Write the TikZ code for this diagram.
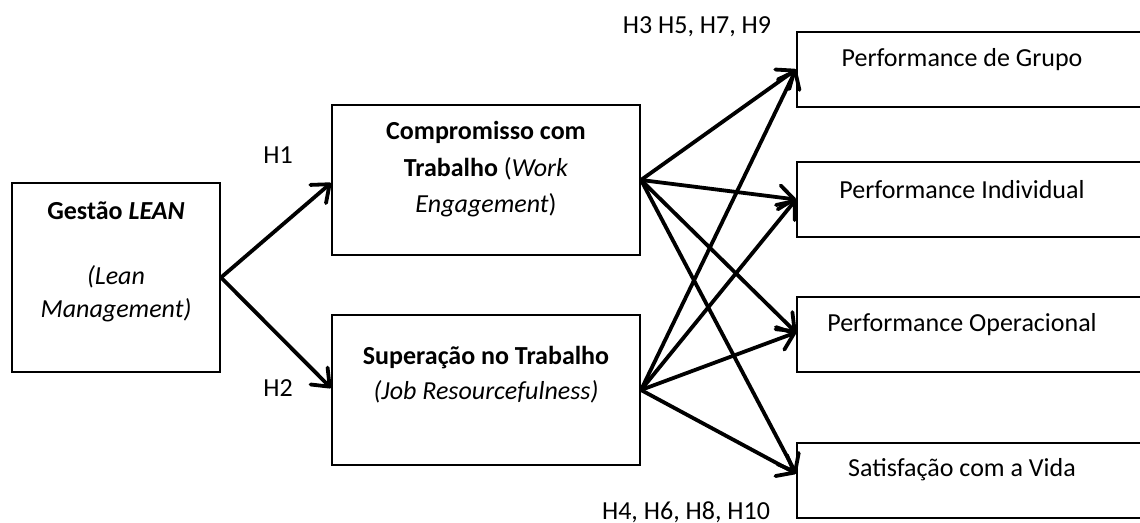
\documentclass[tikz,border=0pt]{standalone}
\usepackage{fontspec}
\setmainfont{Carlito}
\usetikzlibrary{arrows.meta}
\begin{document}
\begin{tikzpicture}[x=0.5pt,y=-0.5pt,
  frame/.style={draw, line width=1pt, inner sep=0pt},
  txt/.style={font=\fontsize{13}{18.25}\selectfont, align=center, inner sep=0pt},
  link/.style={line width=1.9pt, line cap=round,
    -{Straight Barb[length=7.5pt,width=12pt,line width=1.9pt,round]}}
]
\clip (0,0) rectangle (1140,523);

% boxes
\node[frame, minimum width=104pt, minimum height=94.5pt] (lean) at (116,277.5) {};
\node[frame, minimum width=154pt, minimum height=75pt] (comp) at (486,180) {};
\node[frame, minimum width=154pt, minimum height=75pt] (sup) at (486,390) {};
\node[frame, minimum width=181.5pt, minimum height=37.5pt] (grp) at (978.5,69.5) {};
\node[frame, minimum width=181.5pt, minimum height=37.5pt] (ind) at (978.5,199.5) {};
\node[frame, minimum width=181.5pt, minimum height=37.5pt] (ops) at (978.5,334.5) {};
\node[frame, minimum width=181.5pt, minimum height=37.5pt] (sat) at (978.5,480.5) {};

% box texts
\node[txt, font=\fontsize{13}{16.5}\selectfont] (leanT) at (116,262)
  {\textbf{Gestão \textit{LEAN}}\\[16pt]\textit{(Lean}\\\textit{Management)}};
\node[txt] (compT) at (486,169.5)
  {\textbf{Compromisso com}\\\textbf{Trabalho} (\textit{Work}\\\textit{Engagement})};
\node[txt, font=\fontsize{13}{17.5}\selectfont] (supT) at (486,375)
  {\textbf{Superação no Trabalho}\\\textit{(Job Resourcefulness)}};
\node[txt] (grpT) at (962,60) {Performance de Grupo};
\node[txt] (indT) at (962,190) {Performance Individual};
\node[txt] (opsT) at (962,325) {Performance Operacional};
\node[txt] (satT) at (962,470) {Satisfação com a Vida};

% hypothesis labels
\node[txt] (h1) at (278,155) {H1};
\node[txt] (h2) at (278,388) {H2};
\node[txt] (hodd) at (697,27) {H3 H5, H7, H9};
\node[txt] (heven) at (686,512) {H4, H6, H8, H10};

% paths
\draw[link] (lean.east) -- ([yshift=-1.5pt]comp.west);
\draw[link] (lean.east) -- ([yshift=1pt]sup.west);
\foreach \s in {comp,sup}{
  \draw[link] (\s.east) -- (grp.west);
  \draw[link] (\s.east) -- (ind.west);
  \draw[link] (\s.east) -- ([yshift=1pt]ops.west);
  \draw[link] (\s.east) -- ([yshift=3.5pt]sat.west);
}
\end{tikzpicture}
\end{document}
